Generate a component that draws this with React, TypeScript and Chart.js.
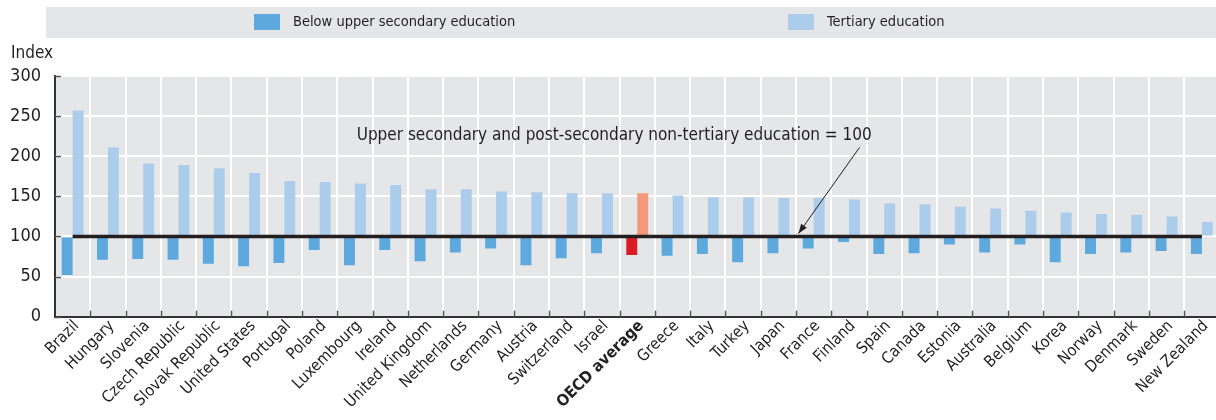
import React, { useEffect, useRef } from "react";
import { Chart, registerables } from "chart.js";

Chart.register(...registerables);

const categories = [
  "Brazil", "Hungary", "Slovenia", "Czech Republic", "Slovak Republic", "United States",
  "Portugal", "Poland", "Luxembourg", "Ireland", "United Kingdom", "Netherlands", "Germany",
  "Austria", "Switzerland", "Israel", "OECD average", "Greece", "Italy", "Turkey", "Japan",
  "France", "Finland", "Spain", "Canada", "Estonia", "Australia", "Belgium", "Korea",
  "Norway", "Denmark", "Sweden", "New Zealand",
];

const belowUpperSecondary = [
  52, 71, 72, 71, 66, 63, 67, 83, 64, 83, 69, 80, 85, 64, 73, 79, 77,
  76, 78, 68, 79, 85, 93, 78, 79, 90, 80, 90, 68, 78, 80, 82, 78,
];

const tertiary = [
  257, 211, 191, 189, 185, 179, 169, 168, 166, 164, 159, 159, 156, 155, 154, 154, 154,
  151, 149, 149, 148, 148, 146, 141, 140, 137, 135, 132, 130, 128, 127, 125, 118,
];

const referenceValue = 100;
const baseline = categories.map(() => referenceValue);

const yTicks = [0, 50, 100, 150, 200, 250, 300];

const legendLabels = ["Below upper secondary education", "Tertiary education"];
const annotationText = "Upper secondary and post-secondary non-tertiary education = 100";
const yAxisTitle = "Index";

const FONT = "'Liberation Sans Narrow', 'Arial Narrow', 'DejaVu Sans Condensed', sans-serif";
const TEXT = "#231F20";
const BG = "#E5E6E8";
const BELOW = "#5DA9DD";
const TERT = "#ABCDEB";
const OECD_BELOW = "#DC1C24";
const OECD_TERT = "#F4977A";
const HIGHLIGHT = "OECD average";

const W = 1222;
const H = 420;

const decorPlugin = {
  id: "decor",
  beforeDraw(chart: any) {
    const { ctx, chartArea } = chart;
    ctx.save();
    ctx.fillStyle = BG;
    ctx.fillRect(chartArea.left, chartArea.top, chartArea.right - chartArea.left, chartArea.bottom - chartArea.top);
    // legend box
    ctx.fillRect(46, 7, chart.width - 46, 31);
    const sw = [254, 788];
    const colors = [BELOW, TERT];
    ctx.font = `14.5px ${FONT}`;
    ctx.textBaseline = "middle";
    ctx.textAlign = "left";
    legendLabels.forEach((l, i) => {
      ctx.fillStyle = colors[i];
      ctx.fillRect(sw[i], 14, 26, 16);
      ctx.fillStyle = TEXT;
      ctx.fillText(l, sw[i] + 39, 22);
    });
    ctx.restore();
  },
  afterDraw(chart: any) {
    const { ctx } = chart;
    const x = chart.scales.x;
    const y = chart.scales.y;
    const catW = (x.right - x.left) / categories.length;
    ctx.save();
    // inner tick marks
    ctx.strokeStyle = "#555";
    ctx.lineWidth = 1.5;
    for (let i = 1; i < categories.length; i++) {
      const px = Math.round(x.left + i * catW) + 0.5;
      ctx.beginPath();
      ctx.moveTo(px, y.bottom);
      ctx.lineTo(px, y.bottom - 6);
      ctx.stroke();
    }
    yTicks.forEach((v) => {
      const py = Math.round(y.getPixelForValue(v)) + 0.5;
      ctx.beginPath();
      ctx.moveTo(x.left, py);
      ctx.lineTo(x.left + 6, py);
      ctx.stroke();
    });
    // Index label
    ctx.fillStyle = TEXT;
    ctx.font = `17px ${FONT}`;
    ctx.textAlign = "left";
    ctx.textBaseline = "middle";
    ctx.fillText(yAxisTitle, 11, 54);
    // annotation
    ctx.fillText(annotationText, x.left + 8.55 * catW, y.getPixelForValue(226));
    const sx = x.left + 22.8 * catW;
    const sy = y.getPixelForValue(211);
    const ex = x.left + 21.07 * catW;
    const ey = y.getPixelForValue(referenceValue) - 3;
    ctx.strokeStyle = TEXT;
    ctx.lineWidth = 1;
    ctx.beginPath();
    ctx.moveTo(sx, sy);
    ctx.lineTo(ex, ey);
    ctx.stroke();
    const ang = Math.atan2(ey - sy, ex - sx);
    const len = 10;
    const spread = 0.35;
    ctx.fillStyle = TEXT;
    ctx.beginPath();
    ctx.moveTo(ex, ey);
    ctx.lineTo(ex - len * Math.cos(ang - spread), ey - len * Math.sin(ang - spread));
    ctx.lineTo(ex - len * Math.cos(ang + spread), ey - len * Math.sin(ang + spread));
    ctx.closePath();
    ctx.fill();
    ctx.restore();
  },
};

export default function App() {
  const ref = useRef<HTMLCanvasElement | null>(null);
  useEffect(() => {
    if (!ref.current) return;
    const chart = new Chart(ref.current, {
      type: "bar",
      data: {
        labels: categories,
        datasets: [
          {
            type: "line",
            label: "reference",
            data: baseline,
            borderColor: TEXT,
            borderWidth: 3.5,
            pointRadius: 0,
            fill: false,
            order: 0,
          } as any,
          {
            label: legendLabels[0],
            data: belowUpperSecondary,
            base: referenceValue,
            backgroundColor: categories.map((c) => (c === HIGHLIGHT ? OECD_BELOW : BELOW)),
            borderWidth: 0,
            order: 1,
          } as any,
          {
            label: legendLabels[1],
            data: tertiary,
            base: referenceValue,
            backgroundColor: categories.map((c) => (c === HIGHLIGHT ? OECD_TERT : TERT)),
            borderWidth: 0,
            order: 1,
          } as any,
        ],
      },
      options: {
        responsive: false,
        animation: false,
        devicePixelRatio: 1,
        layout: { padding: { top: 76, right: 2.5, left: 0, bottom: 0 } },
        datasets: { bar: { categoryPercentage: 0.62, barPercentage: 1.0 } } as any,
        plugins: { legend: { display: false }, tooltip: { enabled: false }, title: { display: false } },
        scales: {
          x: {
            offset: true,
            grid: { offset: true, color: "#FFFFFF", lineWidth: 2, drawTicks: false },
            border: { color: "#333333", width: 2 },
            ticks: {
              autoSkip: false,
              maxRotation: 45,
              minRotation: 45,
              padding: 0,
              labelOffset: 4,
              color: TEXT,
              font: (ctx: any) => ({
                family: FONT,
                size: 16,
                weight: categories[ctx.index] === HIGHLIGHT ? "bold" : "normal",
              }),
            },
            afterFit: (s: any) => {
              s.height = 103.3;
            },
          },
          y: {
            min: 0,
            max: 300,
            grid: { color: "#FFFFFF", lineWidth: 2, drawTicks: false },
            border: { color: "#333333", width: 2 },
            ticks: {
              stepSize: 50,
              padding: 14,
              color: TEXT,
              font: { family: FONT, size: 18 },
            },
            afterFit: (s: any) => {
              s.width = 55;
            },
          },
        },
      },
      plugins: [decorPlugin],
    });
    return () => chart.destroy();
  }, []);

  return (
    <div style={{ position: "fixed", left: 0, top: 0, width: 1216, height: 420, overflow: "hidden", background: "#fff" }}>
      <canvas ref={ref} width={W} height={H} style={{ display: "block", width: W, height: H }} />
    </div>
  );
}
